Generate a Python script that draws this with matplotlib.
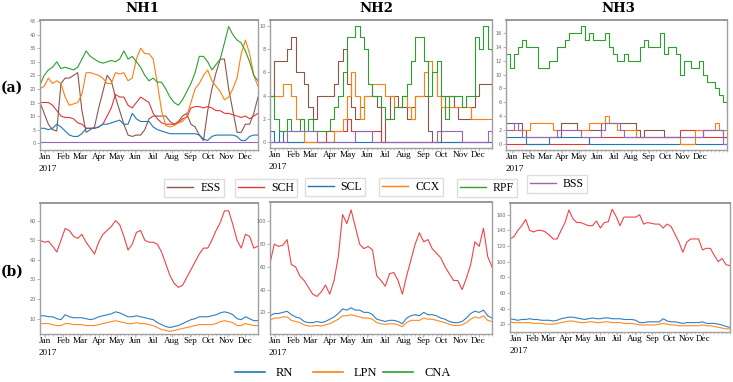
import pandas as pd
import matplotlib
matplotlib.use('Agg')
import matplotlib.pyplot as plt
from matplotlib.lines import Line2D

# weekly sample dates (NH1 / NH2 panels, NH3 panels run a bit longer)
dates_12 = pd.date_range('2016-12-24', periods=53, freq='7D')
dates_3 = pd.date_range('2016-12-22', periods=57, freq='7D')

months = pd.date_range('2017-01-01', periods=12, freq='MS')
month_labels = ['Jan', 'Feb', 'Mar', 'Apr', 'May', 'Jun',
                'Jul', 'Aug', 'Sep', 'Oct', 'Nov', 'Dec']
year_label = '2017'

names_a = ['ESS', 'SCH', 'SCL', 'CCX', 'RPF', 'BSS']
colors_a = ['#8c564b', '#e0383a', '#1f77b4', '#ff7f0e', '#2ca02c', '#9467bd']
names_b = ['RN', 'LPN', 'CNA']
colors_b = ['#1f77b4', '#ff7f0e', '#2ca02c']
line_b = ['#ef4348', '#2f80c0', '#ff8a1e']   # red CNA, blue RN, orange LPN

# ---- row (a) NH1 ----
nh1_ess = [15, 11, 7, 5, 4.5, 22, 24, 24, 25, 26,
           12, 4, 5, 6, 13, 19, 25, 23, 17, 12,
           7, 3, 2.5, 3, 3, 5, 9, 10, 10, 10,
           10, 8, 7, 8, 10, 11, 7, 6, 3, 1,
           12, 20, 26, 31, 31, 20, 12, 4, 4, 7,
           7, 11, 17]
nh1_sch = [15, 15, 15, 14, 12, 10, 9.5, 9.5, 9, 7.5,
           7, 5.5, 5.5, 5.5, 6, 7, 10, 13, 18, 17,
           17, 14, 13, 15, 17, 16, 15, 11, 9, 7.5,
           7, 7, 7, 7.5, 9, 9.5, 13, 13.5, 13.5, 13,
           13.5, 13, 12, 12, 11, 11, 10.5, 10, 9.5, 10,
           9, 10, 11]
nh1_scl = [5.5, 5.5, 5, 5.5, 7, 6, 4.5, 3, 2.5, 2.5,
           3.5, 5.5, 5.5, 5.5, 6, 7, 7, 7.5, 8, 8.5,
           7, 7, 11, 9, 8, 8, 8, 6, 5, 4.5,
           4, 3.5, 3.5, 3.5, 3.5, 3.5, 3.5, 3.5, 3, 1.5,
           1, 2.5, 3, 3, 3, 3, 3, 2.5, 1, 1,
           2.5, 3, 3]
nh1_ccx = [20, 21, 24, 22, 23, 22, 17, 14, 14.5, 15,
           18, 26, 26, 25.5, 25, 24, 22, 22, 26, 25.5,
           26, 23, 24, 31, 35, 33, 33, 31, 22, 12,
           6.5, 6, 6.5, 7.5, 8, 10, 15, 20, 22, 25,
           27, 23, 21, 19, 16, 17, 20, 24, 33, 38,
           33, 25, 21]
nh1_rpf = [21.5, 25, 27, 28, 30, 27.5, 28, 27.5, 27, 28,
           31, 34, 32, 31, 30, 29.5, 30, 30.5, 30, 31,
           34, 31, 32, 30, 28, 25, 23, 24, 22.5, 22.5,
           20, 17, 15, 14, 16, 19, 22, 26, 32, 32,
           30, 27, 29, 31, 37, 43, 40, 38, 37, 34,
           30, 25, 23]
nh1_bss = [0.5, 0.5, 0.5, 0.5, 0.5, 0.5, 0.5, 0.5, 0.5, 0.5,
           0.5, 0.5, 0.5, 0.5, 0.5, 0.5, 0.5, 0.5, 0.5, 0.5,
           0.5, 0.5, 0.5, 0.5, 0.5, 0.5, 0.5, 0.5, 0.5, 0.5,
           0.5, 0.5, 0.5, 0.5, 0.5, 0.5, 0.5, 0.5, 0.5, 0.5,
           0.5, 0.5, 0.5, 0.5, 0.5, 0.5, 0.5, 0.5, 0.5, 0.5,
           0.5, 0.5, 0.5]

# ---- row (a) NH2 ----
nh2_ess = [4, 7, 7, 7, 8, 9, 6, 6, 5, 3,
           2, 4, 4, 4, 4, 5, 7, 8, 5, 3,
           2, 3, 4, 4, 4, 3, 0, 2, 4, 4,
           3, 3, 2, 3, 4, 4, 4, 1, 0, 0,
           4, 4, 4, 3, 2, 2, 2, 3, 4, 5,
           5, 5, 4]
nh2_sch = [0, 0, 0, 0, 0, 0, 0, 0, 0, 0,
           0, 0, 0, 1, 1, 1, 1, 1, 2, 1,
           1, 1, 1, 1, 1, 1, 0, 0, 0, 0,
           0, 0, 0, 0, 0, 0, 0, 0, 0, 0,
           0, 0, 0, 0, 0, 0, 0, 0, 0, 0,
           0, 0, 0]
nh2_scl = [1, 0, 1, 0, 0, 0, 0, 0, 0, 0,
           0, 0, 0, 0, 0, 0, 0, 0, 0, 0,
           0, 0, 0, 0, 0, 0, 0, 0, 0, 0,
           0, 0, 0, 0, 0, 0, 0, 0, 0, 0,
           0, 0, 0, 0, 0, 0, 0, 0, 0, 0,
           0, 0, 0]
nh2_ccx = [4, 4, 4, 5, 5, 4, 2, 2, 0, 0,
           0, 0, 0, 0, 0, 1, 1, 2, 4, 6,
           4, 2, 4, 4, 5, 5, 5, 4, 4, 3,
           3, 4, 3, 2, 4, 4, 6, 7, 6, 4,
           3, 3, 3, 3, 3, 3, 3, 2, 2, 2,
           2, 2, 2]
nh2_rpf = [4, 2, 1, 1, 2, 1, 1, 2, 1, 2,
           1, 1, 1, 1, 2, 3, 4, 6, 9, 9,
           10, 9, 8, 5, 4, 4, 3, 2, 2, 3,
           3, 4, 5, 7, 9, 9, 7, 4, 6, 7,
           4, 2, 4, 4, 4, 3, 4, 4, 9, 8,
           10, 8, 5]
nh2_bss = [0, 0, 0, 0, 1, 1, 1, 1, 1, 1,
           1, 0, 0, 0, 0, 0, 0, 0, 0, 0,
           1, 1, 1, 1, 0, 0, 0, 0, 0, 0,
           0, 0, 0, 0, 0, 0, 0, 0, 0, 1,
           1, 1, 1, 1, 1, 0, 0, 0, 0, 0,
           0, 1, 1]

# ---- row (a) NH3 ----
nh3_ess = [3, 3, 3, 3, 2, 1, 1, 1, 1, 1,
           1, 1, 1, 1, 3, 3, 3, 3, 2, 2,
           2, 2, 2, 2, 3, 3, 3, 3, 3, 3,
           3, 3, 3, 2, 1, 2, 2, 2, 2, 2,
           1, 1, 1, 1, 1, 1, 1, 1, 1, 1,
           2, 2, 2, 2, 2, 1, 1]
nh3_sch = [0, 0, 0, 0, 0, 0, 0, 0, 0, 0,
           0, 0, 0, 0, 0, 0, 0, 0, 0, 0,
           0, 1, 1, 1, 1, 1, 1, 1, 1, 1,
           1, 1, 1, 1, 1, 1, 1, 1, 1, 1,
           1, 1, 1, 1, 2, 2, 2, 2, 2, 2,
           1, 1, 1, 1, 1, 1, 1]
nh3_scl = [1, 1, 1, 1, 1, 0, 0, 0, 0, 0,
           0, 1, 1, 1, 1, 1, 1, 1, 1, 1,
           1, 0, 0, 0, 0, 0, 0, 0, 0, 0,
           0, 0, 0, 0, 0, 0, 0, 0, 0, 0,
           0, 0, 0, 0, 0, 0, 0, 0, 0, 0,
           0, 0, 0, 0, 0, 0, 0]
nh3_ccx = [2, 2, 2, 2, 2, 2, 3, 3, 3, 3,
           3, 3, 2, 2, 2, 2, 2, 2, 2, 2,
           2, 3, 3, 3, 3, 4, 3, 3, 2, 2,
           2, 2, 2, 1, 1, 1, 1, 1, 1, 1,
           1, 1, 1, 1, 0, 0, 0, 0, 2, 2,
           2, 2, 2, 3, 2, 2, 2]
nh3_rpf = [13, 11, 13, 14, 15, 14, 14, 14, 11, 11,
           11, 12, 12, 14, 14, 15, 16, 16, 16, 17,
           15, 16, 15, 15, 15, 16, 14, 13, 12, 12,
           13, 12, 12, 12, 14, 15, 14, 14, 14, 16,
           13, 14, 14, 13, 10, 12, 12, 11, 11, 12,
           10, 9, 9, 8, 7, 6, 5]
nh3_bss = [2, 2, 3, 2, 1, 1, 1, 1, 1, 1,
           1, 1, 1, 2, 2, 2, 2, 2, 2, 1,
           1, 1, 1, 1, 2, 3, 3, 3, 3, 2,
           1, 1, 1, 1, 1, 1, 1, 1, 1, 1,
           1, 1, 1, 1, 1, 1, 1, 1, 1, 1,
           2, 2, 2, 2, 2, 0, 0]

# ---- row (b) ----
nh1_cna = [50, 49, 49.5, 47, 44, 50, 56, 55, 52, 51,
           53, 49, 46, 43, 49, 53, 55, 57, 60, 58,
           52, 45, 48, 54, 55, 50, 49, 49, 48, 44,
           38, 32, 28, 26, 27, 31, 35, 39, 43, 46,
           46, 50, 55, 59, 65, 65, 58, 50, 46, 53,
           52, 46, 47]
nh1_rn = [11.5, 11.5, 11, 11, 10, 9.5, 12, 11, 10.5, 10.5,
          10.5, 10, 9.5, 10, 11, 11.5, 12, 12.5, 13.5, 13,
          12, 11, 11, 11.5, 11, 10.5, 10, 9.5, 8, 7,
          6, 5.5, 6, 6.5, 7.5, 8.5, 9.5, 10, 11, 11,
          11, 11.5, 12, 13, 13.5, 13, 12, 10, 9.5, 11,
          10, 9, 9]
nh1_lpn = [7.5, 7.5, 7.5, 7, 6.5, 6.5, 7.5, 7.5, 7, 7,
           7, 6.5, 6.5, 6.5, 7, 7.5, 8, 8.5, 9, 8.5,
           8, 7.5, 7.5, 8, 7.5, 7.5, 7, 6.5, 5.5, 4.5,
           4, 3.5, 4, 4.5, 5, 5.5, 6, 6.5, 7, 7,
           7, 7, 7.5, 8.5, 9, 8.5, 8, 6.5, 6.5, 7.5,
           7, 6.5, 6.5]

nh2_cna = [63, 80, 78, 79, 84, 62, 60, 52, 48, 42,
           36, 34, 38, 44, 36, 48, 69, 106, 98, 110,
           95, 80, 76, 78, 75, 52, 48, 43, 54, 55,
           48, 36, 52, 66, 80, 90, 82, 84, 76, 72,
           68, 60, 54, 48, 48, 40, 50, 62, 82, 78,
           94, 69, 60]
nh2_rn = [17, 19, 19, 20, 21, 18, 16, 15, 12, 11,
          11, 12, 11, 12, 14, 16, 19, 23, 22, 24,
          22, 22, 20, 20, 18, 14, 13, 12, 13, 13,
          12, 10, 15, 17, 18, 17, 20, 18, 18, 17,
          15, 14, 12, 11, 11, 12, 15, 19, 21, 20,
          22, 17, 15]
nh2_lpn = [13, 15, 15, 16, 16, 13, 12, 11, 9, 8,
           8, 8.5, 8, 9, 10, 12, 14, 17, 17, 18,
           17, 16, 15, 15, 14, 11, 10, 9.5, 10, 10,
           9, 7.5, 11, 13, 13, 13, 15, 14, 14, 13,
           12, 11, 9.5, 8.5, 8.5, 9, 11, 14, 16, 15,
           17, 13, 12]

nh3_cna = [129, 132, 140, 146, 154, 140, 138, 140, 140, 138,
           134, 129, 129, 140, 150, 166, 155, 150, 150, 148,
           146, 146, 152, 143, 150, 151, 167, 158, 146, 157,
           157, 157, 157, 160, 148, 150, 149, 148, 148, 143,
           148, 145, 135, 125, 112, 125, 129, 129, 129, 115,
           117, 117, 108, 100, 104, 96, 95]
nh3_rn = [27, 26, 25, 26, 26, 27, 26, 26, 25, 25,
          25, 24, 25, 27, 28, 29, 29, 28, 27, 26,
          27, 28, 27, 27, 28, 28, 27, 27, 27, 26,
          26, 26, 25, 22, 22, 23, 23, 23, 23, 27,
          24, 23, 23, 22, 21, 22, 22, 22, 22, 23,
          21, 21, 21, 20, 19, 17, 16]
nh3_lpn = [23, 22, 22, 22, 22, 22, 21, 21, 21, 20,
           20, 20, 21, 22, 23, 24, 24, 23, 22, 22,
           23, 23, 22, 22, 23, 23, 22, 22, 22, 21,
           21, 21, 20, 19, 19, 19, 19, 19, 20, 21,
           20, 19, 19, 18, 18, 18, 18, 18, 18, 19,
           18, 18, 17, 16, 15, 14, 14]

W, H = 733, 382
fig = plt.figure(figsize=(W / 100, H / 100), dpi=100)
fig.patch.set_facecolor('white')


def rect(l, t, r, b):
    return [l / W, 1 - b / H, (r - l) / W, (b - t) / H]


def panel(box, dates, series, colors, step, ylim, yticks):
    ax = fig.add_axes(rect(*box))
    for vals, c in zip(series, colors):
        ax.plot(dates, vals, color=c, lw=0.8,
                drawstyle='steps-post' if step else 'default')
    ax.set_xlim(dates[0], dates[-1])
    ax.set_ylim(*ylim)
    ax.set_yticks(yticks)
    ax.tick_params(axis='y', labelsize=3.5, labelcolor='#666666', length=2,
                   width=0.5, color='#999999', pad=1)
    ax.set_xticks(months)
    ax.set_xticklabels(month_labels, fontfamily='Liberation Serif',
                       fontsize=6.6)
    ax.set_xticks(dates, minor=True)
    ax.tick_params(axis='x', which='major', length=2, width=0.5,
                   color='#999999', pad=0.5)
    ax.tick_params(axis='x', which='minor', length=1.5, width=0.4,
                   color='#aaaaaa')
    # year under the first month, left aligned with "Jan"
    ax.annotate(year_label, xy=(months[0], 0),
                xycoords=('data', 'axes fraction'), xytext=(-4.5, -13.5),
                textcoords='offset points', ha='left', va='center',
                fontfamily='Liberation Serif', fontsize=6.6)
    for sp in ax.spines.values():
        sp.set_color('#a0a0a0')
        sp.set_linewidth(1.0)
    ax.spines['top'].set_color('#909090')
    ax.spines['top'].set_linewidth(1.3)
    return ax


panel((40, 20, 258, 150), dates_12,
      [nh1_ess, nh1_sch, nh1_scl, nh1_ccx, nh1_rpf, nh1_bss], colors_a,
      False, (-2.5, 45.4), range(0, 50, 5))
panel((270, 20, 492, 148), dates_12,
      [nh2_ess, nh2_sch, nh2_scl, nh2_ccx, nh2_rpf, nh2_bss], colors_a,
      True, (-0.5, 10.5), range(0, 11, 2))
panel((506, 20, 727, 150), dates_3,
      [nh3_ess, nh3_sch, nh3_scl, nh3_ccx, nh3_rpf, nh3_bss], colors_a,
      True, (-0.85, 17.85), range(0, 17, 2))

panel((40, 203, 258, 334), dates_12, [nh1_cna, nh1_rn, nh1_lpn], line_b,
      False, (2.2, 69), range(10, 61, 10))
panel((270, 202, 492, 334), dates_12, [nh2_cna, nh2_rn, nh2_lpn], line_b,
      False, (1, 117), range(20, 101, 20))
panel((510, 203, 730, 332), dates_3, [nh3_cna, nh3_rn, nh3_lpn], line_b,
      False, (10, 175), range(20, 161, 20))

# titles and row labels
for x, t in [(142, 'NH1'), (376, 'NH2'), (618, 'NH3')]:
    fig.text(x / W, 1 - 9 / H, t, ha='center', va='center',
             fontfamily='DejaVu Serif', fontweight='bold', fontsize=9.5)
fig.text(12 / W, 1 - 88 / H, '(a)', ha='center', va='center',
         fontfamily='DejaVu Serif', fontweight='bold', fontsize=10)
fig.text(12 / W, 1 - 272 / H, '(b)', ha='center', va='center',
         fontfamily='DejaVu Serif', fontweight='bold', fontsize=10)

# legend (a): each entry in its own small box
legend_a_x = [194, 266, 335, 411, 487, 557]
legend_a_y = [188, 188, 187, 187, 188, 184]
for name, c, x, y in zip(names_a, colors_a, legend_a_x, legend_a_y):
    fig.legend([Line2D([], [], color=c, lw=1.0)], [name], loc='center',
               bbox_to_anchor=(x / W, 1 - y / H), frameon=True,
               fancybox=False, edgecolor='#dddddd', framealpha=1,
               prop={'family': 'Liberation Serif', 'size': 8.5},
               handlelength=2.2, handletextpad=0.6, borderpad=0.25,
               borderaxespad=0)

# legend (b)
legend_b_x = [264, 345, 417]
for name, c, x in zip(names_b, colors_b, legend_b_x):
    fig.legend([Line2D([], [], color=c, lw=1.2)], [name], loc='center',
               bbox_to_anchor=(x / W, 1 - 373 / H), frameon=False,
               prop={'family': 'Liberation Serif', 'size': 9},
               handlelength=2.4, handletextpad=0.9, borderpad=0.2,
               borderaxespad=0)

fig.savefig('out.png', dpi=100, facecolor='white')
